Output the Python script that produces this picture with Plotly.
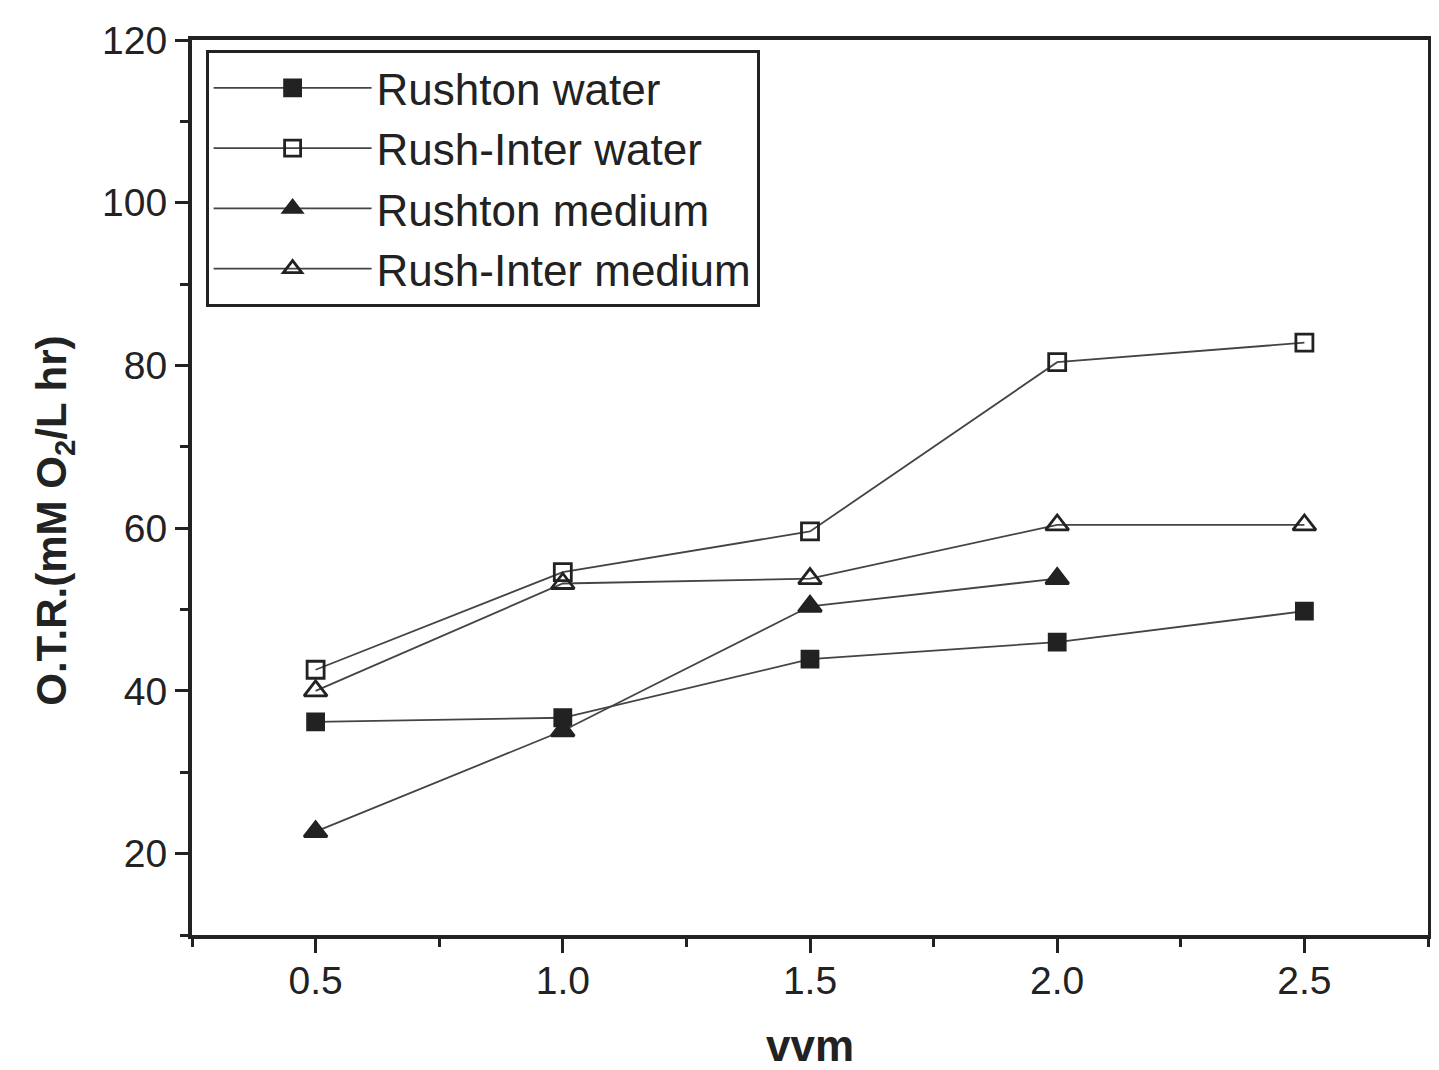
import plotly.graph_objects as go

vvm = [0.5, 1.0, 1.5, 2.0, 2.5]
rushton_water = [36.2, 36.7, 43.9, 46.0, 49.8]
rush_inter_water = [42.6, 54.6, 59.6, 80.4, 82.8]
vvm_medium = [0.5, 1.0, 1.5, 2.0]
rushton_medium = [22.7, 35.1, 50.4, 53.8]
rush_inter_medium = [40.0, 53.2, 53.8, 60.4, 60.4]

series = [
    ("Rushton water", vvm, rushton_water, "square", 16),
    ("Rush-Inter water", vvm, rush_inter_water, "square-open", 17),
    ("Rushton medium", vvm_medium, rushton_medium, "triangle-up", 20),
    ("Rush-Inter medium", vvm, rush_inter_medium, "triangle-up-open", 20),
]

ink = "#222222"
fig = go.Figure()
for name, xs, ys, sym, sz in series:
    fig.add_trace(go.Scatter(
        x=xs, y=ys, name=name, mode="lines+markers",
        line=dict(color="#444444", width=1.8),
        marker=dict(symbol=sym, size=sz, color=ink,
                    line=dict(color=ink, width=2.8)),
    ))

font_family = "Liberation Sans, Arial, sans-serif"
fig.update_layout(
    width=1431, height=1062,
    margin=dict(l=184, r=11, t=32, b=135),
    paper_bgcolor="white", plot_bgcolor="white",
    font=dict(family=font_family, size=39, color=ink),
    showlegend=True,
    legend=dict(
        x=0.011, y=0.989, xanchor="left", yanchor="top",
        bgcolor="white", bordercolor=ink, borderwidth=3,
        font=dict(size=44, family=font_family, color=ink),
        itemwidth=158, tracegroupgap=0,
    ),
    xaxis=dict(
        range=[0.25, 2.75], tick0=0.5, dtick=0.5, tickformat=".1f",
        ticks="outside", ticklen=14, tickwidth=3, tickcolor=ink,
        showline=True, linewidth=4, linecolor=ink, mirror=True,
        showgrid=False, zeroline=False, automargin=False,
        ticklabelstandoff=-6,
        minor=dict(dtick=0.25, tick0=0.25, ticks="outside", ticklen=8,
                   tickwidth=3, tickcolor=ink, showgrid=False),
        title=dict(text="<b>vvm</b>", font=dict(size=44, family=font_family), standoff=30),
        tickfont=dict(size=39),
    ),
    yaxis=dict(
        range=[10, 120], tick0=0, dtick=20,
        ticks="outside", ticklen=13, tickwidth=3, tickcolor=ink,
        showline=True, linewidth=4, linecolor=ink, mirror=True,
        showgrid=False, zeroline=False, automargin=False,
        minor=dict(dtick=10, tick0=0, ticks="outside", ticklen=8,
                   tickwidth=3, tickcolor=ink, showgrid=False),
        tickfont=dict(size=39),
    ),
    annotations=[dict(
        text="<b>O.T.R.(mM O<sub>2</sub>/L hr)</b>",
        xref="paper", yref="paper", x=-0.111, y=0.4626,
        xanchor="center", yanchor="middle", textangle=-90,
        showarrow=False, font=dict(size=42, family=font_family, color=ink),
    )],
)

fig.write_html("out.html")
